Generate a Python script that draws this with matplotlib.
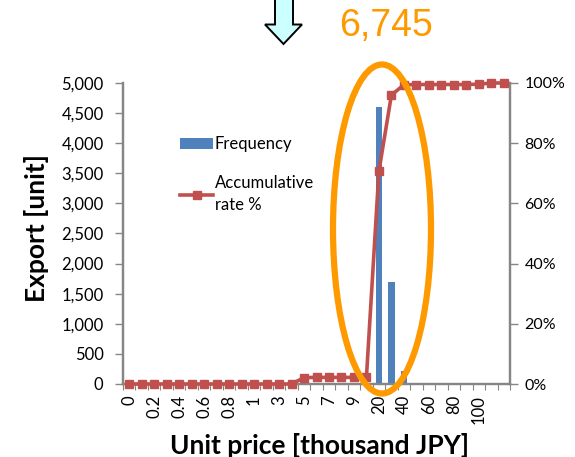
import matplotlib
matplotlib.use('Agg')
import matplotlib.pyplot as plt
from matplotlib.patches import Ellipse, Polygon

# Parameters
categories = ['0', '0.1', '0.2', '0.3', '0.4', '0.5', '0.6', '0.7', '0.8', '0.9',
              '1', '2', '3', '4', '5', '6', '7', '8', '9', '10',
              '20', '30', '40', '50', '60', '70', '80', '90', '100', '110', '']
frequency = [0, 0, 0, 0, 0, 0, 0, 0, 0, 0,
             0, 0, 0, 0, 90, 10, 5, 5, 5, 5,
             4600, 1700, 220, 5, 3, 3, 3, 3, 3, 15, 0]
accumulative = [0, 0, 0, 0, 0, 0, 0, 0, 0, 0,
                0, 0, 0, 0, 2.1, 2.2, 2.2, 2.2, 2.2, 2.3,
                70.7, 96, 99.4, 99.5, 99.5, 99.5, 99.5, 99.5, 99.6, 100, 100]
left_ticks = [0, 500, 1000, 1500, 2000, 2500, 3000, 3500, 4000, 4500, 5000]
right_ticks = [0, 20, 40, 60, 80, 100]
total_label = '6,745'

W, H = 575, 457
BLUE = '#4F81BD'
RED = '#C0504D'
ORANGE = '#FF9900'
GREY = '#868686'

plt.rcParams['font.family'] = ['Lato', 'DejaVu Sans']

fig = plt.figure(figsize=(W / 100, H / 100), dpi=100)
ax = fig.add_axes([123 / W, 1 - 384 / H, 387 / W, 301 / H])

x = list(range(len(categories)))
bars = ax.bar(x, frequency, width=0.5, color=BLUE, label='Frequency', zorder=2)
ax.set_xlim(-0.5, len(categories) - 0.5)
ax.set_ylim(0, 5000)
ax.set_yticks(left_ticks)
ax.set_yticklabels([f'{v:,}' for v in left_ticks], fontsize=12, color='black')

ax.set_xticks(x[0::2])
ax.set_xticklabels(categories[0::2], rotation=90, fontsize=12)
ax.set_xticks([i - 0.5 for i in range(len(categories) + 1)], minor=True)
ax.tick_params(axis='x', which='major', length=0, pad=8)
ax.tick_params(axis='x', which='minor', length=4, width=0.8, color=GREY)
ax.tick_params(axis='y', length=6, width=1, color=GREY, pad=8)

ax2 = ax.twinx()
line, = ax2.plot(x, accumulative, color=RED, lw=2.6, marker='s', ms=5.5,
                 label='Accumulative\nrate %', clip_on=False, zorder=3)
ax2.set_ylim(0, 100)
ax2.set_yticks(right_ticks)
ax2.set_yticklabels([f'{v}%' for v in right_ticks], fontsize=11.5)
ax2.tick_params(axis='y', length=6, width=1, color=GREY, pad=4.5)

for a in (ax, ax2):
    a.spines['top'].set_visible(False)
    for side in ('left', 'right', 'bottom'):
        a.spines[side].set_color(GREY)
        a.spines[side].set_linewidth(1.6)

fig.text(37 / W, 1 - 228 / H, 'Export [unit]', rotation=90, fontsize=19,
         fontweight='bold', ha='center', va='center')
fig.text(319 / W, 1 - 445 / H, 'Unit price [thousand JPY]', fontsize=19,
         fontweight='bold', ha='center', va='center')

leg = ax2.legend([bars, line], ['Frequency', 'Accumulative\nrate %'], frameon=False,
                 loc='upper left', bbox_to_anchor=(180 / W, 1 - 136.5 / H),
                 bbox_transform=fig.transFigure, fontsize=12, handlelength=2,
                 handletextpad=0.1, labelspacing=1.35, borderpad=0, borderaxespad=0)
leg.get_texts()[1].set_linespacing(1.45)

# annotations drawn over the chart, in pixels
over = fig.add_axes([0, 0, 1, 1], facecolor='none')
over.set_xlim(0, W)
over.set_ylim(H, 0)
over.axis('off')
over.add_patch(Ellipse((382, 229), 98, 329, fill=False, ec=ORANGE, lw=4.5))
over.add_patch(Polygon([(275, -3), (275, 24.5), (265, 24.5), (283.5, 44),
                        (302, 24.5), (293, 24.5), (293, -3)], closed=True,
                       fc='#CCFFFF', ec='black', lw=1.4))
over.text(386, 36, total_label, color=ORANGE, fontsize=27, ha='center', va='baseline',
          family=['Liberation Sans', 'DejaVu Sans'])

plt.savefig('out.png', dpi=100)
